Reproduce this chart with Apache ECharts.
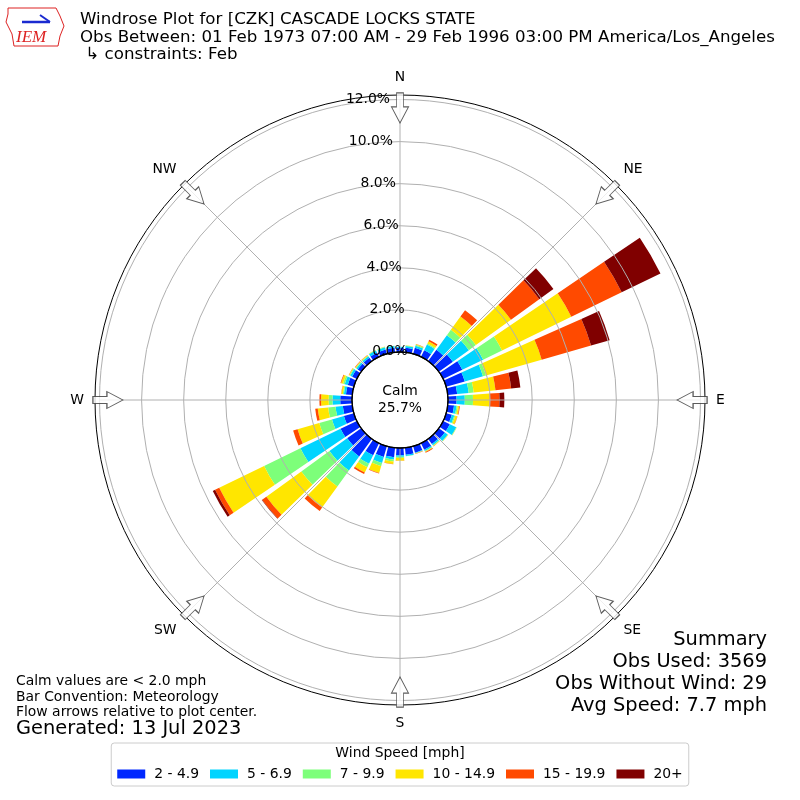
<!DOCTYPE html>
<html><head><meta charset="utf-8">
<script src="https://cdn.jsdelivr.net/npm/echarts@6/dist/echarts.min.js"></script>
<style>html,body{margin:0;padding:0;background:#fff}#c{width:800px;height:800px}</style>
</head><body><div id="c"></div>
<script>
// Direction bins (degrees, meteorological: direction wind blows from)
const directions = ['0','10','20','30','40','50','60','70','80','90','100','110','120','130','140','150','160','170',
                    '180','190','200','210','220','230','240','250','260','270','280','290','300','310','320','330','340','350'];
const speedBins = ['2 - 4.9','5 - 6.9','7 - 9.9','10 - 14.9','15 - 19.9','20+'];
const speedColors = ['#0028ff','#00d4ff','#7dff7a','#ffe600','#ff4a00','#800000'];

// Percent of observations per direction bin for each speed class
const spd2to5  = [0.20,0.22,0.30,0.35,0.67,0.82,1.01,0.92,0.45,0.41,0.30,0.28,0.35,0.35,0.30,0.35,0.32,0.34,
                  0.35,0.45,0.53,0.64,1.03,0.82,0.86,0.49,0.45,0.56,0.30,0.30,0.25,0.20,0.20,0.22,0.22,0.22];
const spd5to7  = [0.05,0.08,0.10,0.30,0.85,0.94,1.10,0.90,0.55,0.39,0.12,0.12,0.34,0.17,0.08,0.06,0.03,0.06,
                  0.07,0.11,0.30,0.45,0.83,1.04,2.12,0.59,0.35,0.37,0.10,0.15,0.10,0.08,0.08,0.12,0.10,0.08];
const spd7to10 = [0.00,0.02,0.05,0.05,0.32,0.41,1.00,0.15,0.24,0.39,0.06,0.05,0.02,0.02,0.03,0.03,0.01,0.01,
                  0.05,0.10,0.16,0.18,0.93,1.65,1.92,0.63,0.35,0.18,0.05,0.08,0.04,0.04,0.04,0.02,0.03,0.01];
const spd10to15= [0.00,0.01,0.02,0.12,0.78,2.06,3.66,2.75,1.04,0.79,0.07,0.10,0.01,0.01,0.02,0.03,0.01,0.00,
                  0.13,0.12,0.34,0.28,1.24,2.05,2.37,1.07,0.50,0.36,0.07,0.10,0.03,0.03,0.03,0.01,0.01,0.00];
const spd15to20= [0.00,0.00,0.01,0.08,0.37,1.66,2.66,2.44,0.75,0.47,0.03,0.01,0.00,0.00,0.01,0.04,0.02,0.00,
                  0.01,0.01,0.02,0.08,0.20,0.25,0.22,0.22,0.12,0.08,0.01,0.03,0.01,0.02,0.01,0.00,0.00,0.00];
const spd20up  = [0.00,0.00,0.00,0.00,0.00,0.83,2.05,0.92,0.44,0.23,0.00,0.00,0.00,0.00,0.00,0.00,0.00,0.00,
                  0.00,0.00,0.00,0.00,0.00,0.02,0.12,0.00,0.00,0.00,0.00,0.00,0.00,0.00,0.00,0.00,0.00,0.00];
const speedSeries = [spd2to5, spd5to7, spd7to10, spd10to15, spd15to20, spd20up];

const radiusTicks = [0, 2, 4, 6, 8, 10, 12];
const radiusTickLabels = ['0.0%','2.0%','4.0%','6.0%','8.0%','10.0%','12.0%'];
const compassAngles = [0, 45, 90, 135, 180, 225, 270, 315];
const compassLabels = ['N','NE','E','SE','S','SW','W','NW'];
const calmPct = '25.7%';

const FONT = 'DejaVu Sans';
const CX = 400, CY = 400, INNER = 48, OUTER = 300.5, SPINE = 305;
const GRID = '#b0b0b0';

const chart = echarts.init(document.getElementById('c'), null, {renderer: 'canvas'});

const arrowPath = 'path://M5,0 L12,0 L12,14 L17,14 L8.5,30 L0,14 L5,14 Z';

const barSeries = speedSeries.map((vals, i) => ({
  type: 'bar', name: speedBins[i], coordinateSystem: 'polar', polarIndex: 1,
  stack: 'wind', data: vals, barCategoryGap: '18%',
  itemStyle: {color: speedColors[i]}, z: 2, silent: true
}));

const option = {
  animation: false,
  backgroundColor: '#fff',
  polar: [
    {center: [CX, CY], radius: [INNER, OUTER]},   // 0: grid
    {center: [CX, CY], radius: [INNER, OUTER]},   // 1: bars
    {center: [CX, CY], radius: [INNER, SPINE]},   // 2: spine + compass labels
    {center: [CX, CY], radius: [0, INNER]},       // 3: calm circle
    {center: [CX, CY], radius: [INNER, OUTER]}    // 4: radial tick labels
  ],
  angleAxis: [
    {polarIndex: 0, type: 'value', min: 0, max: 360, interval: 45, startAngle: 90, clockwise: true, z: 5,
     axisLine: {show: false}, axisTick: {show: false}, axisLabel: {show: false},
     splitLine: {show: true, lineStyle: {color: GRID, width: 1}}},
    {polarIndex: 1, type: 'category', data: directions, startAngle: 95, clockwise: true, boundaryGap: true,
     axisLine: {show: false}, axisTick: {show: false}, axisLabel: {show: false}, splitLine: {show: false}},
    {polarIndex: 2, type: 'value', min: 0, max: 360, interval: 45, startAngle: 90, clockwise: true, z: 6,
     axisLine: {show: true, lineStyle: {color: '#000', width: 1}}, axisTick: {show: false}, splitLine: {show: false},
     axisLabel: {show: true, margin: 11, color: '#000', fontFamily: FONT, fontSize: 13.9,
       formatter: v => { const k = compassAngles.indexOf(v); return (k >= 0 && v < 360) ? compassLabels[k] : ''; }}},
    {polarIndex: 3, type: 'value', min: 0, max: 360, startAngle: 90, z: 6,
     axisLine: {show: true, lineStyle: {color: '#000', width: 1.3}}, axisTick: {show: false},
     axisLabel: {show: false}, splitLine: {show: false}},
    {polarIndex: 4, type: 'value', min: 0, max: 360, startAngle: 94, clockwise: true,
     axisLine: {show: false}, axisTick: {show: false}, axisLabel: {show: false}, splitLine: {show: false}}
  ],
  radiusAxis: [
    {polarIndex: 0, type: 'value', min: 0, max: 12, interval: 2, z: 5,
     axisLine: {show: false}, axisTick: {show: false}, axisLabel: {show: false},
     splitLine: {show: true, lineStyle: {color: ['rgba(0,0,0,0)', GRID, GRID, GRID, GRID, GRID, GRID], width: 1}}},
    {polarIndex: 1, type: 'value', min: 0, max: 12, interval: 2, show: false},
    {polarIndex: 2, type: 'value', min: 0, max: 12, show: false},
    {polarIndex: 3, type: 'value', min: 0, max: 1, show: false},
    {polarIndex: 4, type: 'value', min: 0, max: 12, interval: 2, z: 7,
     axisLine: {show: false}, axisTick: {show: false}, splitLine: {show: false},
     axisLabel: {show: true, color: '#000', fontFamily: FONT, fontSize: 13.9, margin: -11,
       formatter: v => { const k = radiusTicks.indexOf(v); return k >= 0 ? radiusTickLabels[k] : ''; }}}
  ],
  legend: {
    data: speedBins, left: 'center', top: 743, orient: 'horizontal',
    icon: 'rect', itemWidth: 28, itemHeight: 9, itemGap: 11,
    padding: [24, 6, 5, 6], borderColor: '#cccccc', borderWidth: 1, borderRadius: 3,
    textStyle: {fontFamily: FONT, fontSize: 13.9, color: '#000', padding: [0, 0, 0, 4]},
    selectedMode: false
  },
  series: barSeries.concat([{
    type: 'scatter', coordinateSystem: 'polar', polarIndex: 0, z: 10, silent: true,
    symbol: arrowPath, symbolSize: [17, 30],
    itemStyle: {color: '#fff', borderColor: '#333', borderWidth: 1},
    data: compassAngles.map(a => ({value: [11.6, a], symbolRotate: -a}))
  }]),
  graphic: [
    {type: 'polygon', shape: {points: [[8,8],[56,8],[60,16],[64,26],[60,36],[58,46],[14,46],[12,34],[6,22],[8,14]]},
     style: {fill: 'none', stroke: '#d22', lineWidth: 1}},
    {type: 'line', shape: {x1: 22, y1: 22, x2: 50, y2: 22}, style: {stroke: '#1a2ad0', lineWidth: 2.5}},
    {type: 'line', shape: {x1: 40, y1: 15, x2: 50, y2: 22}, style: {stroke: '#1a2ad0', lineWidth: 2}},
    {type: 'text', x: 16, y: 38, style: {text: 'IEM', fill: '#d22', font: 'italic 17px "Liberation Serif", serif', textAlign: 'left', textVerticalAlign: 'middle'}},
    {type: 'text', x: 80, y: 20, style: {text: 'Windrose Plot for [CZK] CASCADE LOCKS STATE', fill: '#000', font: '16.67px "DejaVu Sans"', textAlign: 'left', textVerticalAlign: 'middle'}},
    {type: 'text', x: 80, y: 37.5, style: {text: 'Obs Between: 01 Feb 1973 07:00 AM - 29 Feb 1996 03:00 PM America/Los_Angeles', fill: '#000', font: '16.67px "DejaVu Sans"', textAlign: 'left', textVerticalAlign: 'middle'}},
    {type: 'text', x: 80, y: 55, style: {text: ' \u21B3 constraints: Feb', fill: '#000', font: '16.67px "DejaVu Sans"', textAlign: 'left', textVerticalAlign: 'middle'}},
    {type: 'text', x: 400, y: 391, z: 20, style: {text: 'Calm', fill: '#000', font: '13.9px "DejaVu Sans"', textAlign: 'center', textVerticalAlign: 'middle'}},
    {type: 'text', x: 400, y: 408, z: 20, style: {text: calmPct, fill: '#000', font: '13.9px "DejaVu Sans"', textAlign: 'center', textVerticalAlign: 'middle'}},
    {type: 'text', x: 767, y: 640, style: {text: 'Summary', fill: '#000', font: '19.4px "DejaVu Sans"', textAlign: 'right', textVerticalAlign: 'middle'}},
    {type: 'text', x: 767, y: 662, style: {text: 'Obs Used: 3569', fill: '#000', font: '19.4px "DejaVu Sans"', textAlign: 'right', textVerticalAlign: 'middle'}},
    {type: 'text', x: 767, y: 684, style: {text: 'Obs Without Wind: 29', fill: '#000', font: '19.4px "DejaVu Sans"', textAlign: 'right', textVerticalAlign: 'middle'}},
    {type: 'text', x: 767, y: 706, style: {text: 'Avg Speed: 7.7 mph', fill: '#000', font: '19.4px "DejaVu Sans"', textAlign: 'right', textVerticalAlign: 'middle'}},
    {type: 'text', x: 16, y: 681.5, style: {text: 'Calm values are < 2.0 mph', fill: '#000', font: '13.9px "DejaVu Sans"', textAlign: 'left', textVerticalAlign: 'middle'}},
    {type: 'text', x: 16, y: 697, style: {text: 'Bar Convention: Meteorology', fill: '#000', font: '13.9px "DejaVu Sans"', textAlign: 'left', textVerticalAlign: 'middle'}},
    {type: 'text', x: 16, y: 712, style: {text: 'Flow arrows relative to plot center.', fill: '#000', font: '13.9px "DejaVu Sans"', textAlign: 'left', textVerticalAlign: 'middle'}},
    {type: 'text', x: 16, y: 729, style: {text: 'Generated: 13 Jul 2023', fill: '#000', font: '19.4px "DejaVu Sans"', textAlign: 'left', textVerticalAlign: 'middle'}},
    {type: 'text', x: 400, y: 753, z: 20, style: {text: 'Wind Speed [mph]', fill: '#000', font: '13.9px "DejaVu Sans"', textAlign: 'center', textVerticalAlign: 'middle'}}
  ]
};
chart.setOption(option);
</script>
</body></html>
